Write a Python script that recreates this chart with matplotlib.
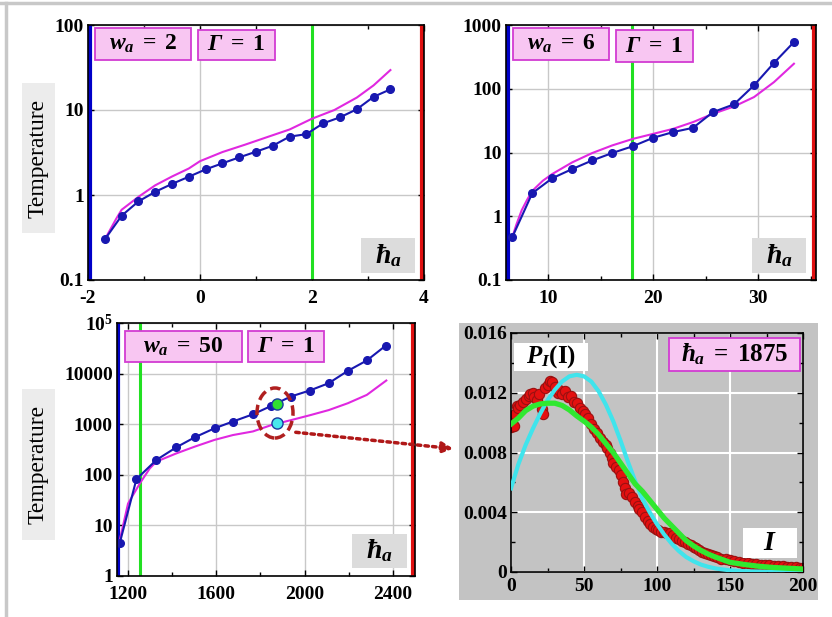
import numpy as np
import matplotlib
matplotlib.use('Agg')
import matplotlib.pyplot as plt
from matplotlib.patches import Rectangle, Ellipse, FancyArrowPatch
from matplotlib.lines import Line2D
from matplotlib.ticker import NullLocator

plt.rcParams['font.family'] = ['Liberation Serif', 'DejaVu Serif']
plt.rcParams['font.weight'] = 'bold'
plt.rcParams['axes.unicode_minus'] = False
plt.rcParams['mathtext.fontset'] = 'custom'
plt.rcParams['mathtext.rm'] = 'Liberation Serif:bold'
plt.rcParams['mathtext.it'] = 'Liberation Serif:italic:bold'
plt.rcParams['mathtext.bf'] = 'Liberation Serif:bold'
plt.rcParams['mathtext.sf'] = 'Liberation Serif:italic:bold'

# panel 1: w_a = 2
p1_x = [-1.7, -1.4, -1.1, -0.8, -0.5, -0.2, 0.1, 0.4, 0.7, 1.0, 1.3, 1.6, 1.9, 2.2, 2.5, 2.8, 3.1, 3.4]
p1_blue = [0.30, 0.57, 0.84, 1.09, 1.35, 1.64, 2.0, 2.36, 2.77, 3.23, 3.8, 4.86, 5.2, 6.97, 8.2, 10.2, 14.3, 17.5]
p1_mag_x = [-1.7, -1.5, -1.4, -1.1, -0.8, -0.5, -0.2, 0.0, 0.4, 0.8, 1.2, 1.6, 2.0, 2.4, 2.8, 3.1, 3.4]
p1_mag = [0.30, 0.52, 0.67, 0.95, 1.3, 1.65, 2.05, 2.5, 3.2, 3.9, 4.8, 5.9, 7.9, 10.0, 14.0, 19.5, 29.5]

# panel 2: w_a = 6
p2_x = [6.6, 8.5, 10.4, 12.3, 14.2, 16.1, 18.1, 20.0, 21.9, 23.8, 25.7, 27.7, 29.6, 31.5, 33.4]
p2_blue = [0.47, 2.3, 3.95, 5.5, 7.5, 9.8, 12.6, 17, 20.9, 24.4, 43, 57, 113, 254, 540]
p2_mag_x = [6.6, 7.0, 7.5, 8.0, 8.5, 9.5, 10.4, 12.3, 14.2, 16.1, 18.1, 20.0, 21.9, 23.8, 25.7, 27.7, 29.6, 31.5, 33.4]
p2_mag = [0.47, 0.75, 1.25, 1.8, 2.5, 3.6, 4.6, 7.0, 9.8, 12.9, 16.4, 19.6, 23.5, 30, 40.5, 52.7, 74, 127, 247]

# panel 3: w_a = 50
p3_x = [1162, 1238, 1328, 1419, 1502, 1592, 1675, 1766, 1849, 1937, 2023, 2109, 2196, 2282, 2367]
p3_blue = [4.4, 82, 196, 350, 550, 830, 1130, 1570, 2300, 3520, 4630, 6460, 11350, 18200, 35600]
p3_mag_x = [1162, 1200, 1253, 1298, 1328, 1419, 1502, 1592, 1675, 1766, 1849, 1937, 2023, 2109, 2196, 2282, 2370]
p3_mag = [5, 27, 67, 133, 182, 265, 360, 490, 610, 720, 960, 1200, 1500, 1900, 2600, 3800, 7300]
sel_h = 1875
sel_sim = 2470
sel_th = 1070

# panel 4: intensity distribution at h_a = 1875
dist_x = [0, 1, 2, 3, 4, 5, 6, 8, 10, 12, 13, 15, 16, 18, 19, 21, 22, 23, 25, 27, 28, 30, 32, 33,
          35, 37, 39, 41, 43, 45, 47, 49, 51, 53, 55, 57, 59, 61, 63, 65, 66, 68, 69, 70, 72, 74,
          75, 77, 78, 79, 81, 83, 85, 87, 88, 90, 92, 94, 95, 97, 99, 101, 103, 105, 107, 109, 111,
          113, 115, 117, 119, 121, 123, 125, 127, 129, 131, 133, 135, 137, 139, 141, 144, 147, 150,
          153, 156, 159, 162, 165, 168, 171, 174, 177, 180, 183, 186, 189, 192, 195, 198, 200]
dist_p = [9.7, 10.0, 9.8, 10.6, 11.1, 11.0, 11.2, 11.4, 11.6, 11.8, 11.9, 12.0, 11.7, 11.5, 11.9,
          10.9, 10.6, 12.3, 12.5, 12.8, 12.7, 12.4, 12.0, 12.2, 11.9, 12.1, 11.7, 11.8, 11.4, 11.3,
          11.0, 10.8, 10.6, 10.3, 9.9, 9.6, 9.3, 9.0, 8.7, 8.5, 8.3, 8.0, 7.6, 7.3, 7.0, 6.8, 6.5,
          6.0, 5.6, 5.2, 5.3, 5.0, 4.7, 4.4, 4.2, 4.0, 3.7, 3.4, 3.2, 3.0, 2.9, 2.8, 2.7, 2.7, 2.6,
          2.6, 2.5, 2.3, 2.2, 2.1, 2.0, 1.9, 1.8, 1.7, 1.6, 1.45, 1.35, 1.3, 1.2, 1.15, 1.05, 1.0,
          0.9, 0.85, 0.8, 0.72, 0.68, 0.62, 0.58, 0.55, 0.52, 0.5, 0.46, 0.44, 0.42, 0.4, 0.38, 0.36,
          0.34, 0.32, 0.3, 0.28]
cyan_x = [0, 5, 10, 15, 20, 25, 30, 35, 40, 45, 50, 55, 60, 65, 70, 75, 80, 85, 90, 95, 100, 105,
          110, 115, 120, 125, 130, 135, 140, 150, 160, 175, 200]
cyan_p = [5.6, 7.2, 8.5, 9.6, 10.6, 11.5, 12.2, 12.75, 13.1, 13.2, 13.1, 12.75, 12.1, 11.2, 10.1,
          8.8, 7.4, 6.1, 4.9, 4.0, 3.2, 2.5, 1.9, 1.4, 1.0, 0.72, 0.5, 0.35, 0.24, 0.11, 0.05, 0.02, 0.0]
green_x = [0, 5, 10, 15, 20, 25, 30, 35, 40, 45, 50, 55, 60, 65, 70, 75, 80, 85, 90, 95, 100, 105,
           110, 115, 120, 125, 130, 135, 140, 150, 160, 170, 180, 190, 200]
green_p = [9.9, 10.3, 10.8, 11.1, 11.25, 11.3, 11.3, 11.15, 10.85, 10.45, 10.1, 9.7, 9.2, 8.6,
           8.0, 7.3, 6.6, 5.9, 5.4, 4.8, 4.2, 3.6, 3.1, 2.6, 2.1, 1.75, 1.45, 1.2, 1.0, 0.65, 0.5,
           0.38, 0.3, 0.25, 0.2]

W, H = 832, 617
fig = plt.figure(figsize=(W / 100, H / 100), dpi=100)


def fx(x):
    return x / W


def fy(y):
    return 1 - y / H


def axes_px(x0, y0, x1, y1):
    return fig.add_axes([fx(x0), fy(y1), (x1 - x0) / W, (y1 - y0) / H])


def box(x0, y0, x1, y1, text, fc, ec='none', size=17, weight='bold', rot=0, z=5):
    fig.add_artist(Rectangle((fx(x0), fy(y1)), (x1 - x0) / W, (y1 - y0) / H,
                             transform=fig.transFigure, fc=fc, ec=ec, lw=1.3, zorder=z))
    if text:
        fig.text(fx((x0 + x1) / 2), fy((y0 + y1) / 2), text, ha='center', va='center',
                 fontsize=size, fontweight=weight, rotation=rot, zorder=z + 1)


def style(ax, xpad, ypad, gridc='#c8c8c8', gridw=1.0):
    ax.grid(True, which='major', color=gridc, lw=gridw)
    ax.set_axisbelow(True)
    ax.tick_params(which='both', direction='in', top=True, right=True, labelsize=14,
                   length=4, width=1)
    ax.tick_params(axis='x', pad=xpad)
    ax.tick_params(axis='y', pad=ypad)
    ax.tick_params(which='minor', length=3)
    for s in ax.spines.values():
        s.set_linewidth(1.2)


PINK, PINK_E = '#f8c6f2', '#d23cd2'
BLUE, MAG = '#1818b0', '#e028e0'

# outer frame
fig.add_artist(Line2D([0, 1], [fy(3), fy(3)], transform=fig.transFigure, color='#c8c8c8', lw=2.5))
fig.add_artist(Line2D([fx(6), fx(6)], [0, fy(3)], transform=fig.transFigure, color='#c8c8c8', lw=2.5))

# ---- panel 1
ax1 = axes_px(88, 25, 424, 280)
ax1.set_yscale('log')
ax1.set_xlim(-2, 4)
ax1.set_ylim(0.1, 100)
ax1.set_xticks([-2, 0, 2, 4])
ax1.set_xticks([-1, 1, 3], minor=True)
ax1.set_yticks([0.1, 1, 10, 100])
ax1.set_yticklabels(['0.1', '1', '10', '100'])
ax1.yaxis.set_minor_locator(NullLocator())
style(ax1, 7, 3)
ax1.axvline(-1.96, color='#0000c8', lw=3, zorder=1.5)
ax1.axvline(2, color='#22e022', lw=2.2, zorder=1.5)
ax1.axvline(3.97, color='#e01010', lw=3, zorder=1.5)
ax1.plot(p1_mag_x, p1_mag, color=MAG, lw=1.5)
ax1.plot(p1_x, p1_blue, color=BLUE, lw=1.5, marker='o', ms=5.5)

# ---- panel 2
ax2 = axes_px(506, 25, 816, 280)
ax2.set_yscale('log')
ax2.set_xlim(6, 35.5)
ax2.set_ylim(0.1, 1000)
ax2.set_xticks([10, 20, 30])
ax2.set_xticks([15, 25, 35], minor=True)
ax2.set_xticklabels(['10', '20', '30'])
ax2.set_yticks([0.1, 1, 10, 100, 1000])
ax2.set_yticklabels(['0.1', '1', '10', '100', '1000'])
ax2.yaxis.set_minor_locator(NullLocator())
style(ax2, 7, 3)
ax2.axvline(6.18, color='#0000c8', lw=3, zorder=1.5)
ax2.axvline(18, color='#22e022', lw=2.2, zorder=1.5)
ax2.axvline(35.3, color='#e01010', lw=3, zorder=1.5)
ax2.plot(p2_mag_x, p2_mag, color=MAG, lw=1.5)
ax2.plot(p2_x, p2_blue, color=BLUE, lw=1.5, marker='o', ms=5.5)

# ---- panel 3
ax3 = axes_px(117, 323, 415, 576)
ax3.set_yscale('log')
ax3.set_xlim(1150, 2500)
ax3.set_ylim(1, 1e5)
ax3.set_xticks([1200, 1600, 2000, 2400])
ax3.set_xticks([1400, 1800, 2200], minor=True)
ax3.set_xticklabels(['1200', '1600', '2000', '2400'])
ax3.set_yticks([1, 10, 100, 1000, 10000, 1e5])
ax3.set_yticklabels(['1', '10', '100', '1000', '10000', r'$10^5$'])
ax3.yaxis.set_minor_locator(NullLocator())
style(ax3, 7, 3)
ax3.axvline(1155, color='#0000c8', lw=3, zorder=1.5)
ax3.axvline(1255, color='#22e022', lw=2.2, zorder=1.5)
ax3.axvline(2490, color='#e01010', lw=3, zorder=1.5)
ax3.plot(p3_mag_x, p3_mag, color=MAG, lw=1.5)
ax3.plot(p3_x, p3_blue, color=BLUE, lw=1.5, marker='o', ms=5.5)
ax3.plot([sel_h], [sel_sim], 'o', ms=8, mfc='#30e030', mec='#1a3aa0', mew=1)
ax3.plot([sel_h], [sel_th], 'o', ms=8, mfc='#48e8ec', mec='#1a3aa0', mew=1)

# ---- panel 4
box(459, 323, 818, 600, None, '#c3c3c3', z=-2)
ax4 = axes_px(511, 333, 803, 572)
ax4.set_facecolor('#c3c3c3')
ax4.set_xlim(0, 200)
ax4.set_ylim(0, 0.016)
ax4.set_xticks([0, 50, 100, 150, 200])
ax4.set_xticks([25, 75, 125, 175], minor=True)
ax4.set_xticklabels(['0', '50', '100', '150', '200'])
ax4.set_yticks([0, 0.004, 0.008, 0.012, 0.016])
ax4.set_yticks([0.002, 0.006, 0.010, 0.014], minor=True)
ax4.set_yticklabels(['0', '0.004', '0.008', '0.012', '0.016'])
style(ax4, 4, 3, gridc='white', gridw=1.5)
ax4.scatter(dist_x, np.array(dist_p) * 1e-3, s=55, c='#e41010', edgecolors='#9a1010',
            linewidths=0.8, zorder=2)
ax4.plot(cyan_x, np.array(cyan_p) * 1e-3, color='#40e4ec', lw=3, zorder=3)
ax4.plot(green_x, np.array(green_p) * 1e-3, color='#30e830', lw=3.8, zorder=4)

# labels
box(22, 83, 55, 233, 'Temperature', '#ececec', size=17, weight='normal', rot=90, z=1)
box(22, 389, 55, 540, 'Temperature', '#ececec', size=17, weight='normal', rot=90, z=1)

box(95, 28, 191, 60, r'$w_a\;=\;2$', PINK, PINK_E)
box(198, 30, 275, 60, r'$\mathsf{\Gamma}\;=\;1$', PINK, PINK_E)
box(361, 238, 415, 273, r'$\hbar_a$', '#dcdcdc', size=20)

box(513, 28, 609, 60, r'$w_a\;=\;6$', PINK, PINK_E)
box(616, 30, 693, 62, r'$\mathsf{\Gamma}\;=\;1$', PINK, PINK_E)
box(752, 238, 806, 273, r'$\hbar_a$', '#dcdcdc', size=20)

box(125, 331, 242, 362, r'$w_a\;=\;50$', PINK, PINK_E)
box(248, 331, 324, 362, r'$\mathsf{\Gamma}\;=\;1$', PINK, PINK_E)
box(352, 534, 407, 568, r'$\hbar_a$', '#dcdcdc', size=20)

box(514, 343, 588, 371, r'$P_I(\mathrm{I})$', 'white', size=18)
box(669, 338, 800, 371, r'$\hbar_a\;=\;1875$', PINK, PINK_E, size=18)
box(743, 528, 797, 558, r'$I$', 'white', size=20)

# highlighted point and link to its distribution
fig.add_artist(Ellipse((fx(275), fy(413)), 36 / W, 50 / H, transform=fig.transFigure,
                       fill=False, ec='#b02020', lw=2.5, ls=(0, (3, 1.5)), zorder=6))
fig.add_artist(FancyArrowPatch((fx(293), fy(432)), (fx(456), fy(449)), transform=fig.transFigure,
                               arrowstyle='-|>', mutation_scale=16, color='#b01818', lw=2.5,
                               ls=(0, (1, 1.2)), zorder=6))

fig.savefig('out.png', dpi=100)
